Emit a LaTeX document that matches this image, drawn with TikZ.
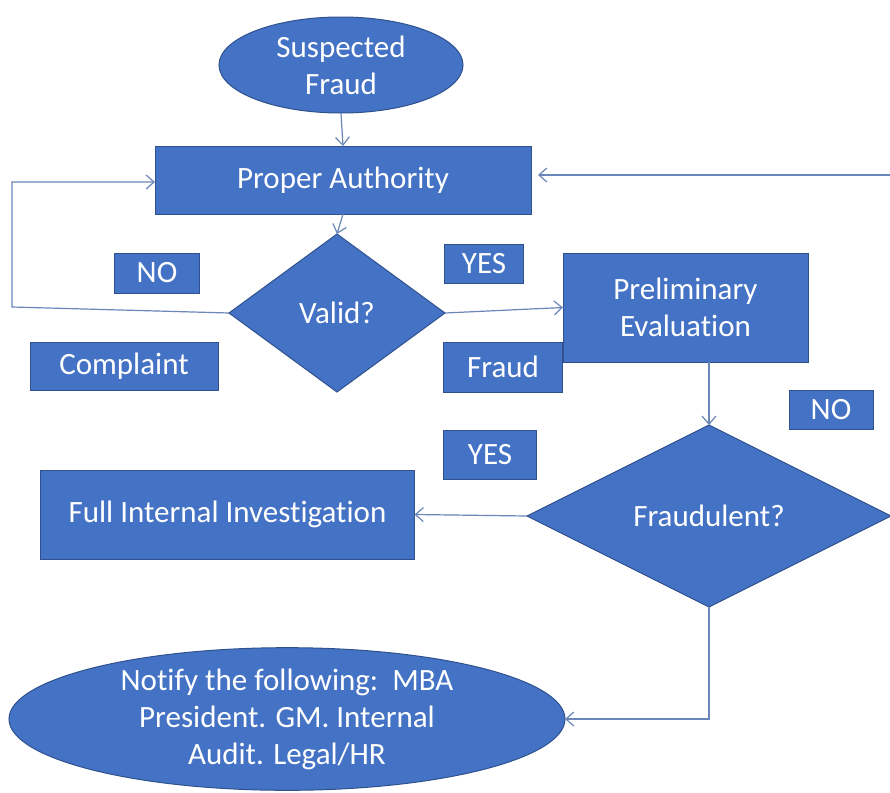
\documentclass[tikz,border=0pt]{standalone}
\usepackage{fontspec}
\setmainfont[Ligatures=NoCommon]{Carlito}
\usepackage{xcolor}
\usetikzlibrary{arrows.meta, positioning, calc, shapes.geometric}

\definecolor{ofblue}{HTML}{4472C4}
\definecolor{ofedge}{HTML}{2F528F}
\definecolor{conn}{HTML}{6B86B8}

\begin{document}
\begin{tikzpicture}[
    x=0.5pt, y=-0.5pt,
    every node/.style = {text=white, font=\fontsize{15.5}{18.5}\selectfont},
    %% Start / end ellipses
    tbox/.style = {
      ellipse, draw=ofedge, line width=0.5pt, fill=ofblue,
      align=center, inner sep=0pt, outer sep=0pt},
    %% Process boxes
    pbox/.style = {
      rectangle, draw=ofedge, line width=0.5pt, fill=ofblue,
      align=center, inner sep=0pt, outer sep=0pt},
    %% Decisions
    dbox/.style = {
      diamond, shape aspect=2, draw=ofedge, line width=0.5pt, fill=ofblue,
      align=center, inner sep=0pt, outer sep=0pt},
    %% Small answer labels
    lbox/.style = {pbox},
    %% Connectors
    arr/.style  = {-{Straight Barb[length=4pt, width=7pt]}, line width=0.6pt, conn},
  ]

    \useasboundingbox[fill=white] (0,0) rectangle (890,793);

    %% ── Main flow ─────────────────────────────────────────────────────────
    \node[tbox, minimum width=122pt, minimum height=48pt] (S1) at (341,65)  {Suspected\\Fraud};
    \node[pbox, minimum width=188pt, minimum height=34pt] (A1) at (343,180) {Proper Authority};
    \node[dbox, minimum width=108pt, minimum height=79pt] (V1) at (337,313) {Valid?};

    %% answer labels round the first decision
    \node[lbox, minimum width=42.5pt, minimum height=20pt] (L1) at (157,273) {NO};
    \node[lbox, minimum width=94pt,   minimum height=24pt] (L2) at (124,366) {Complaint};
    \node[lbox, minimum width=39.5pt, minimum height=19.5pt] (L3) at (484,264) {YES};
    \node[lbox, minimum width=59.5pt, minimum height=25pt] (L4) at (503,367) {Fraud};

    \node[pbox, minimum width=122.5pt, minimum height=54.5pt] (P1) at (685.5,307.5) {Preliminary\\Evaluation};
    \node[dbox, minimum width=182pt, minimum height=91pt] (F1) at (709,516) {Fraudulent?};

    %% answer labels round the second decision
    \node[lbox, minimum width=42pt,   minimum height=19.5pt] (L5) at (831,410) {NO};
    \node[lbox, minimum width=46.5pt, minimum height=24.5pt] (L6) at (490,455) {YES};

    \node[pbox, minimum width=187pt, minimum height=44.5pt] (I1) at (227.5,514.5) {Full Internal Investigation};
    \node[tbox, minimum width=278pt, minimum height=71pt] (N1) at (287,719)
      {Notify the following:~~MBA\\President. GM. Internal\\Audit. Legal/HR};

    \draw[arr] (S1.south)--(A1.north);
    \draw[arr] (A1.south)--(V1.north);
    \draw[arr] (V1.east)--(P1.west);
    \draw[arr] (F1.north|-P1.south)--(F1.north);
    \draw[arr] (F1.west)--(I1.east);

    %% NO loop back to Proper Authority
    \coordinate (B1) at (12,307);
    \coordinate (B2) at (12,182);
    \draw[arr] (V1.west)--(B1)--(B2)--(B2-|A1.west);

    %% return line entering from the right edge
    \coordinate (R1) at (890,175);
    \draw[arr, shorten >=3.5pt] (R1)--(R1-|A1.east);

    %% down to the notification
    \coordinate (D1) at (F1.south|-N1.east);
    \draw[arr] (F1.south)--(D1)--(N1.east);

  \end{tikzpicture}
\end{document}
